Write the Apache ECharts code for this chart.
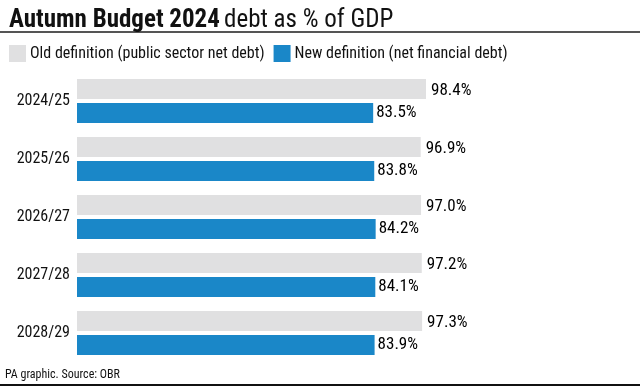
<!DOCTYPE html>
<html><head><meta charset="utf-8">
<script src="https://cdn.jsdelivr.net/npm/echarts@6/dist/echarts.min.js"></script>
<style>html,body{margin:0;padding:0;background:#fff}#c{width:640px;height:390px}</style>
</head><body><div id="c"></div>
<script>
const categories = ['2024/25','2025/26','2026/27','2027/28','2028/29'];
const oldDef = [98.4, 96.9, 97.0, 97.2, 97.3];
const newDef = [83.5, 83.8, 84.2, 84.1, 83.9];
const seriesNames = ['Old definition (public sector net debt)','New definition (net financial debt)'];
const FONT = '"Liberation Sans Narrow", "Roboto Condensed", Roboto, sans-serif';
const chart = echarts.init(document.getElementById('c'));
chart.setOption({
  backgroundColor: '#fff',
  animation: false,
  textStyle: { fontFamily: FONT },
  title: {
    left: 4, top: 3,
    text: '{b|Autumn Budget 2024} {r|debt as % of GDP}',
    textStyle: {
      rich: {
        b: { fontFamily: FONT, fontSize: 25, fontWeight: 'bold', color: '#111' },
        r: { fontFamily: FONT, fontSize: 25, fontWeight: 'normal', color: '#111' }
      }
    }
  },
  legend: {
    left: 9, top: 45, padding: 0,
    icon: 'rect', itemWidth: 17, itemHeight: 17, itemGap: 9,
    textStyle: { fontFamily: FONT, fontSize: 16, color: '#111', padding: [0,0,0,-1] },
    data: seriesNames
  },
  grid: { left: 77, right: 90, top: 72, bottom: 28, containLabel: false },
  xAxis: { type: 'value', min: 0, max: (640-90-77)/3.547, show: false },
  yAxis: {
    type: 'category', data: categories, inverse: true,
    axisLine: { show: false }, axisTick: { show: false }, splitLine: { show: false },
    axisLabel: { fontFamily: FONT, fontSize: 16, color: '#111', margin: 7 }
  },
  series: [
    { name: seriesNames[0], type: 'bar', data: oldDef, barWidth: 20, barGap: '20%',
      itemStyle: { color: '#e0e0e1' },
      label: { show: true, position: 'right', distance: 5, formatter: p => p.value.toFixed(1) + '%',
        fontFamily: FONT, fontSize: 17, fontWeight: 'normal', color: '#000', offset: [0, 2] } },
    { name: seriesNames[1], type: 'bar', data: newDef, barWidth: 20,
      itemStyle: { color: '#1a87c8' },
      label: { show: true, position: 'right', distance: 3, formatter: p => p.value.toFixed(1) + '%',
        fontFamily: FONT, fontSize: 17, fontWeight: 'normal', color: '#000' } }
  ],
  graphic: [
    { type: 'line', shape: { x1: 0, y1: 32, x2: 640, y2: 32 }, style: { stroke: '#555', lineWidth: 2 } },
    { type: 'line', shape: { x1: 0, y1: 385, x2: 640, y2: 385 }, style: { stroke: '#111', lineWidth: 2 } },
    { type: 'text', left: 5, top: 369, style: { text: 'PA graphic. Source: OBR', fontFamily: FONT, fontSize: 12, fill: '#111' } }
  ]
});
</script></body></html>
